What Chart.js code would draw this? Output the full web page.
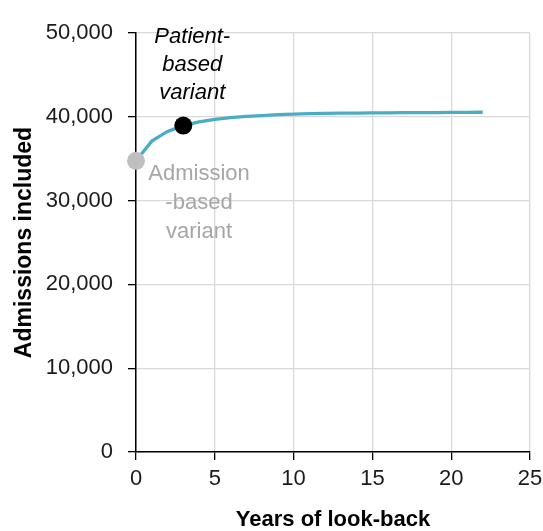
<!DOCTYPE html>
<html>
<head>
<meta charset="utf-8">
<script src="https://cdn.jsdelivr.net/npm/chart.js@4"></script>
<style>
  html, body { margin: 0; padding: 0; background: #fff; }
  #wrap { width: 543px; height: 531px; }
</style>
</head>
<body>
<div id="wrap"><canvas id="lookbackChart" width="543" height="531"></canvas></div>
<script>
// Years of look-back and the admissions included at each
const years = [0, 1, 2, 3, 4, 5, 6, 7, 8, 9, 10, 11, 12, 13, 14, 15, 16, 17, 18, 19, 20, 21, 22];
const admissions = [34750, 37100, 38250, 38950, 39400, 39700, 39900, 40050, 40150, 40250, 40320, 40370,
  40400, 40430, 40450, 40470, 40480, 40490, 40500, 40510, 40520, 40530, 40540];

// highlighted variants
const variantYears = [0, 3];
const variantValues = [34750, 38950];
const variantColors = ["#bfbfbf", "#000000"];

const yTicks = [0, 10000, 20000, 30000, 40000, 50000];
const xTicks = [0, 5, 10, 15, 20, 25];

const FONT = "'Liberation Sans', Arial, sans-serif";

// labels next to the two variant markers
const variantLabels = {
  id: "variantLabels",
  afterDatasetsDraw(chart) {
    const ctx = chart.ctx;
    const meta = chart.getDatasetMeta(1);
    const adm = meta.data[0];
    const pat = meta.data[1];
    ctx.save();
    ctx.textAlign = "center";
    ctx.textBaseline = "alphabetic";

    ctx.font = "italic 22px " + FONT;
    ctx.fillStyle = "#000";
    ["Patient-", "based", "variant"].forEach((t, i) => {
      ctx.fillText(t, pat.x + 9, pat.y - 83 + i * 28);
    });

    ctx.font = "22px " + FONT;
    ctx.fillStyle = "#a6a6a6";
    ["Admission", "-based", "variant"].forEach((t, i) => {
      ctx.fillText(t, adm.x + 63, adm.y + 19 + i * 29);
    });
    ctx.restore();
  },
};

const config = {
  type: "line",
  data: {
    datasets: [
      {
        label: "Admissions",
        data: years.map((x, i) => ({ x: x, y: admissions[i] })),
        borderColor: "#4bacc6",
        borderWidth: 3.3,
        pointRadius: 0,
        tension: 0,
        fill: false,
        order: 1,
      },
      {
        label: "Variants",
        data: variantYears.map((x, i) => ({ x: x, y: variantValues[i] })),
        showLine: false,
        pointRadius: 9,
        pointBorderWidth: 0,
        pointBackgroundColor: variantColors,
        pointBorderColor: variantColors,
        clip: false,
        order: 0,
      },
    ],
  },
  options: {
    responsive: false,
    animation: false,
    layout: { padding: { left: 0, right: 13, top: 33, bottom: 0 } },
    plugins: {
      legend: { display: false },
      tooltip: { enabled: false },
    },
    scales: {
      x: {
        type: "linear",
        min: 0,
        max: 25,
        afterBuildTicks: (s) => { s.ticks = xTicks.map((v) => ({ value: v })); },
        afterFit: (s) => { s.height = 79; s.paddingLeft = 0; s.paddingRight = 0; },
        grid: { color: "#d9d9d9", lineWidth: 1.3, tickColor: "#000", tickLength: 8 },
        border: { color: "#000", width: 1.5 },
        ticks: { color: "#1a1a1a", font: { family: FONT, size: 22 }, padding: 6, maxRotation: 0 },
        title: {
          display: true,
          text: "Years of look-back",
          color: "#000",
          font: { family: FONT, size: 22, weight: "bold", lineHeight: 1 },
          padding: { top: 0, bottom: 0 },
        },
      },
      y: {
        type: "linear",
        min: 0,
        max: 50000,
        afterBuildTicks: (s) => { s.ticks = yTicks.map((v) => ({ value: v })); },
        afterFit: (s) => { s.width = 136; },
        grid: { color: "#d9d9d9", lineWidth: 1.3, tickColor: "#000", tickLength: 8 },
        border: { color: "#000", width: 1.5 },
        ticks: {
          color: "#1a1a1a",
          font: { family: FONT, size: 22 },
          padding: 15,
          callback: (v) => v.toLocaleString("en-US"),
        },
        title: {
          display: true,
          text: "Admissions included",
          color: "#000",
          font: { family: FONT, size: 23, weight: "bold", lineHeight: 1.2 },
          padding: { top: 11, bottom: 0 },
        },
      },
    },
  },
  plugins: [variantLabels],
};

const lookbackChart = new Chart(document.getElementById("lookbackChart"), config);
</script>
</body>
</html>
